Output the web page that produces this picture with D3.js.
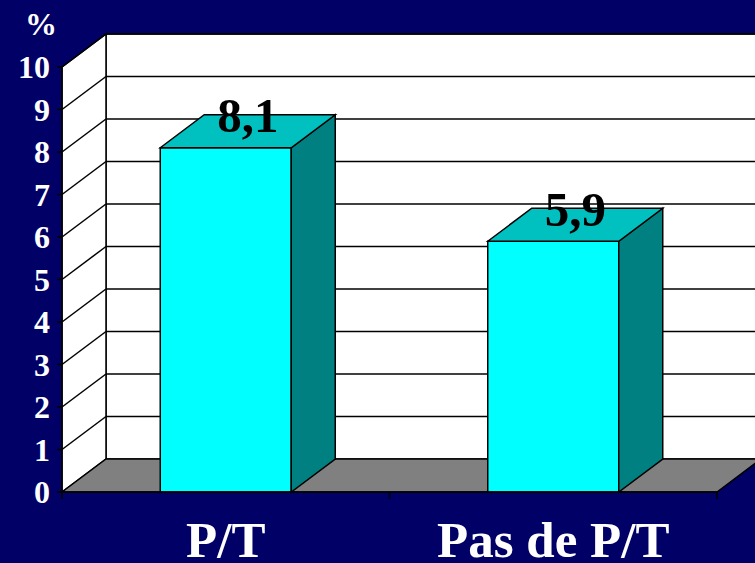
<!DOCTYPE html>
<html>
<head>
<meta charset="utf-8">
<script src="https://cdn.jsdelivr.net/npm/d3@7"></script>
<style>
  html, body { margin: 0; padding: 0; background: #000066; }
  svg { display: block; }
  text { font-family: "Liberation Serif", "Times New Roman", serif; font-weight: bold; }
</style>
</head>
<body>
<svg id="chart" width="755" height="563"></svg>
<script>
// Chart data
const categories = ["P/T", "Pas de P/T"];
const values = [8.1, 5.9];
const valueLabels = ["8,1", "5,9"];
const yTicks = [0, 1, 2, 3, 4, 5, 6, 7, 8, 9, 10];
const yUnit = "%";

(function () {
  const W = 755, H = 563;
  const svg = d3.select("#chart");

  // Plot frame (front plane) and 3D depth offset
  const plotLeft = 62, plotRight = 717, plotBottom = 492, plotTop = 67;
  const dx = 44, dy = -33;

  const x = d3.scaleBand().domain(categories).range([plotLeft, plotRight])
    .paddingInner(0.6).paddingOuter(0.3);
  const y = d3.scaleLinear().domain([0, 10]).range([plotBottom, plotTop]);

  const colors = {
    bg: "#000066", wall: "#ffffff", floor: "#808080",
    front: "#00ffff", topFace: "#00c0c0", side: "#008080", line: "#000000"
  };

  svg.append("rect").attr("width", W).attr("height", H).attr("fill", colors.bg);

  const poly = pts => "M" + pts.map(p => p.join(",")).join("L") + "Z";

  // Back wall
  svg.append("rect")
    .attr("x", plotLeft + dx).attr("y", y(10) + dy)
    .attr("width", W + 20 - (plotLeft + dx)).attr("height", y(0) - y(10))
    .attr("fill", colors.wall).attr("stroke", colors.line).attr("stroke-width", 1.5);

  // Left side wall
  svg.append("path")
    .attr("d", poly([[plotLeft, y(0)], [plotLeft, y(10)], [plotLeft + dx, y(10) + dy], [plotLeft + dx, y(0) + dy]]))
    .attr("fill", colors.wall).attr("stroke", colors.line).attr("stroke-width", 1.5);

  // Gridlines: on the back wall and diagonals on the side wall
  const grid = svg.append("g").attr("stroke", colors.line).attr("stroke-width", 1.5).attr("fill", "none");
  yTicks.filter(t => t > 0).forEach(t => {
    grid.append("line")
      .attr("x1", plotLeft + dx).attr("x2", W + 20)
      .attr("y1", y(t) + dy).attr("y2", y(t) + dy);
    grid.append("line")
      .attr("x1", plotLeft).attr("x2", plotLeft + dx)
      .attr("y1", y(t)).attr("y2", y(t) + dy);
  });

  // Floor
  svg.append("path")
    .attr("d", poly([[plotLeft, y(0)], [plotRight, y(0)], [plotRight + dx, y(0) + dy], [plotLeft + dx, y(0) + dy]]))
    .attr("fill", colors.floor).attr("stroke", colors.line).attr("stroke-width", 1.5);

  // Bars
  const bars = svg.append("g").attr("stroke", colors.line).attr("stroke-width", 1.5);
  categories.forEach((c, i) => {
    const x0 = x(c), x1 = x(c) + x.bandwidth();
    const yv = y(values[i]), y0 = y(0);
    bars.append("rect")
      .attr("x", x0).attr("y", yv).attr("width", x1 - x0).attr("height", y0 - yv)
      .attr("fill", colors.front);
    bars.append("path")
      .attr("d", poly([[x1, yv], [x1 + dx, yv + dy], [x1 + dx, y0 + dy], [x1, y0]]))
      .attr("fill", colors.side);
    bars.append("path")
      .attr("d", poly([[x0, yv], [x0 + dx, yv + dy], [x1 + dx, yv + dy], [x1, yv]]))
      .attr("fill", colors.topFace);
  });

  // Axis lines and ticks
  const axes = svg.append("g").attr("stroke", colors.line).attr("stroke-width", 1.5);
  axes.append("line").attr("x1", plotLeft).attr("x2", plotLeft).attr("y1", y(0)).attr("y2", y(10));
  axes.append("line").attr("x1", plotLeft).attr("x2", plotRight).attr("y1", y(0)).attr("y2", y(0));
  yTicks.forEach(t => {
    axes.append("line").attr("x1", plotLeft - 5).attr("x2", plotLeft).attr("y1", y(t)).attr("y2", y(t));
  });
  [plotLeft, (plotLeft + plotRight) / 2, plotRight].forEach(px => {
    axes.append("line").attr("x1", px).attr("x2", px).attr("y1", y(0)).attr("y2", y(0) + 7);
  });

  // Value labels centred on each bar's top face
  svg.append("g").selectAll("text").data(categories).join("text")
    .attr("x", d => x(d) + x.bandwidth() / 2 + dx / 2)
    .attr("y", (d, i) => y(values[i]) + dy / 2 + 1)
    .attr("text-anchor", "middle").attr("font-size", 49).attr("fill", "#000")
    .text((d, i) => valueLabels[i]);

  // Y tick labels
  svg.append("g").selectAll("text").data(yTicks).join("text")
    .attr("x", 50).attr("y", d => y(d) + 11)
    .attr("text-anchor", "end").attr("font-size", 32).attr("fill", "#fff")
    .text(d => d);

  svg.append("text").attr("x", 41).attr("y", 35)
    .attr("text-anchor", "middle").attr("font-size", 32).attr("fill", "#fff")
    .text(yUnit);

  // Category labels
  svg.append("g").selectAll("text").data(categories).join("text")
    .attr("x", d => x(d) + x.bandwidth() / 2).attr("y", 557)
    .attr("text-anchor", "middle").attr("font-size", 51).attr("fill", "#fff")
    .text(d => d);
})();
</script>
</body>
</html>
